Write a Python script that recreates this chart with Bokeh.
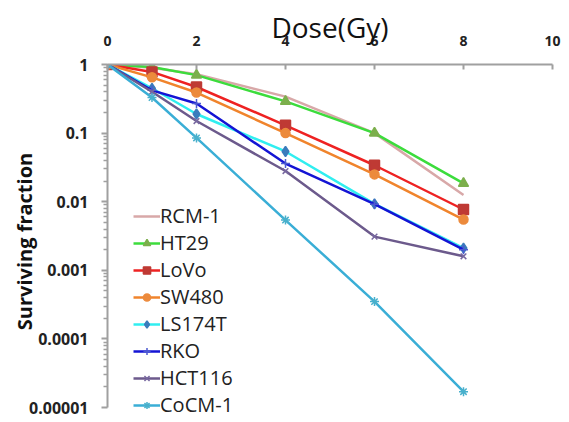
from bokeh.plotting import figure
from bokeh.models import Range1d, FixedTicker, CustomJSTickFormatter, Legend, LegendItem
from bokeh.embed import file_html
from bokeh.resources import INLINE

dose = [0, 1, 2, 4, 6, 8]
series_names = ["RCM-1", "HT29", "LoVo", "SW480", "LS174T", "RKO", "HCT116", "CoCM-1"]
rcm1 = [1, 0.90, 0.72, 0.34, 0.100, 0.0125]
ht29 = [1, 0.92, 0.70, 0.29, 0.100, 0.0185]
lovo = [1, 0.78, 0.47, 0.13, 0.034, 0.0077]
sw480 = [1, 0.65, 0.39, 0.10, 0.025, 0.0055]
ls174t = [1, 0.45, 0.19, 0.054, 0.0093, 0.0021]
rko = [1, 0.42, 0.27, 0.036, 0.0092, 0.0020]
hct116 = [1, 0.40, 0.15, 0.028, 0.0031, 0.0016]
cocm1 = [1, 0.33, 0.085, 0.0054, 0.00035, 0.000017]
values = [rcm1, ht29, lovo, sw480, ls174t, rko, hct116, cocm1]

x_ticks = [0, 2, 4, 6, 8, 10]
y_ticks = [0.00001, 0.0001, 0.001, 0.01, 0.1, 1]
y_tick_labels = ["0.00001", "0.0001", "0.001", "0.01", "0.1", "1"]

line_colors = ["#d8a8a8", "#3cdc3c", "#ee2222", "#f0842c", "#30eef0", "#1414d4", "#6c5a8c", "#3aaed6"]
marker_colors = ["#d8a8a8", "#7caf4c", "#bf3a34", "#ec8a3c", "#3a7cbc", "#4c5ad0", "#7868a0", "#48b0cc"]
markers = [None, "triangle", "square", "circle", "diamond", "cross", "x", "asterisk"]
marker_sizes = [0, 10, 10, 9, 10, 9, 8, 9]

FONT = "Open Sans"

# frame: 1 at y=64, 1e-5 at y=407 (68.6 px/decade); extend a little below so the legend fits
p = figure(width=568, height=421, output_backend="svg", toolbar_location=None,
           y_axis_type="log", x_axis_location="above",
           x_range=Range1d(0, 10), y_range=Range1d(10 ** -5.16, 1),
           min_border_left=107, min_border_right=16, min_border_top=64, min_border_bottom=3)
p.outline_line_color = None
p.xgrid.visible = False
p.ygrid.visible = False

# x axis (top)
xa = p.xaxis[0]
xa.ticker = FixedTicker(ticks=x_ticks)
xa.axis_label = "Dose(Gy)"
xa.axis_label_text_font = FONT
xa.axis_label_text_font_style = "normal"
xa.axis_label_text_font_size = "28px"
xa.axis_label_text_color = "#111111"
xa.axis_label_standoff = -13
xa.major_label_text_font = FONT
xa.major_label_text_font_style = "bold"
xa.major_label_text_font_size = "14px"
xa.major_label_text_color = "#222222"
xa.major_label_standoff = 19
xa.axis_line_color = "#a0a0a0"
xa.axis_line_width = 2
xa.major_tick_line_color = "#a0a0a0"
xa.major_tick_line_width = 2
xa.major_tick_in = 5
xa.major_tick_out = 0
xa.minor_tick_line_color = None

# y axis
ya = p.yaxis[0]
ya.bounds = (0.00001, 1)
minor = []
for k in range(-5, 0):
    for m in range(2, 10):
        minor.append(m * 10.0 ** k)
ya.ticker = FixedTicker(ticks=y_ticks, minor_ticks=minor)
ya.formatter = CustomJSTickFormatter(args=dict(tvals=y_ticks, tlabels=y_tick_labels), code="""
    let best = 0, bd = 1e9;
    for (let i = 0; i < tvals.length; i++) {
        const d = Math.abs(Math.log10(tick) - Math.log10(tvals[i]));
        if (d < bd) { bd = d; best = i; }
    }
    return tlabels[best];
""")
ya.axis_label = "Surviving fraction"
ya.axis_label_text_font = FONT
ya.axis_label_text_font_style = "bold"
ya.axis_label_text_font_size = "20px"
ya.axis_label_text_color = "#111111"
ya.axis_label_standoff = -12
ya.major_label_text_font = FONT
ya.major_label_text_font_style = "bold"
ya.major_label_text_font_size = "16px"
ya.major_label_text_color = "#222222"
ya.major_label_standoff = 13
ya.axis_line_color = "#a0a0a0"
ya.axis_line_width = 2
ya.major_tick_line_color = "#a0a0a0"
ya.major_tick_line_width = 2
ya.major_tick_in = 0
ya.major_tick_out = 6
ya.minor_tick_line_color = "#a0a0a0"
ya.minor_tick_line_width = 1.5
ya.minor_tick_in = 0
ya.minor_tick_out = 4

items = []
for name, ys, lc, mc, mk, ms in zip(series_names, values, line_colors, marker_colors, markers, marker_sizes):
    rs = []
    r = p.line(dose, ys, line_color=lc, line_width=2.5)
    rs.append(r)
    if mk is not None:
        s = p.scatter(dose, ys, marker=mk, size=ms, fill_color=mc, line_color=mc, line_width=1.5)
        rs.append(s)
    items.append(LegendItem(label=name, renderers=rs))

legend = Legend(items=items, location=(26, 0))
legend.background_fill_alpha = 0
legend.border_line_color = None
legend.label_text_font = FONT
legend.label_text_font_size = "20px"
legend.label_text_color = "#222222"
legend.glyph_width = 27
legend.glyph_height = 18
legend.label_height = 18
legend.label_standoff = 0
legend.spacing = 0
legend.padding = 0
legend.margin = 0
p.add_layout(legend)

open("out.html", "w").write(file_html(p, INLINE))
